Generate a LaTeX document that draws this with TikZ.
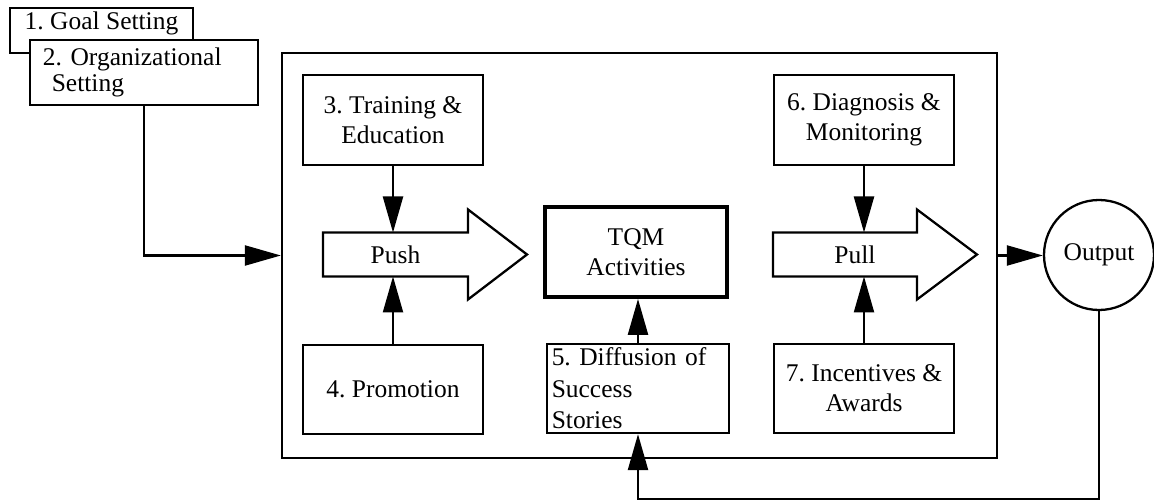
\documentclass[tikz,border=0pt]{standalone}
\usepackage{fontspec}
\setmainfont{Liberation Serif}
\usetikzlibrary{arrows.meta}

\begin{document}
\begin{tikzpicture}[
        font=\fontsize{14.5}{17}\selectfont\frenchspacing,
        box/.style={draw, rectangle, line width=1.3pt, align=center, inner sep=2pt},
        bigarrow/.style={rectangle, outer sep=0pt, inner sep=0pt, minimum height=0.88cm},
        arr/.style={line width=1.3pt, -{Triangle[length=0.72cm,width=0.4cm]}}
    ]
        \useasboundingbox (0, 0) rectangle (23.08, 10.04);

        \node[name=frame, box, minimum width=14.3cm, minimum height=8.1cm] at (12.79, 4.93) {};

        \node[name=goal, box, minimum width=3.66cm, minimum height=0.9cm,
              text height=0.36cm, text depth=0.4cm] at (2.03, 9.43) {1. Goal Setting};
        \node[name=org, box, fill=white, minimum width=4.56cm, minimum height=1.3cm,
              text width=4.04cm, align=left, font=\fontsize{14.5}{15}\selectfont\frenchspacing] at (2.88, 8.59)
            {2. Organizational\\\hspace*{5pt}Setting};

        \node[name=train, box, minimum width=3.6cm, minimum height=1.8cm] at (7.86, 7.64) {3. Training \&\\Education};
        \node[name=promo, box, minimum width=3.6cm, minimum height=1.78cm] at (7.86, 2.25) {4. Promotion};
        \node[name=tqm, box, line width=2.2pt, minimum width=3.64cm, minimum height=1.8cm] at (12.72, 5.0) {TQM\\Activities};
        \node[name=succ, box, inner ysep=0pt, minimum width=3.64cm, minimum height=1.78cm,
              text width=3.45cm, align=left, font=\fontsize{14.5}{18}\selectfont\frenchspacing] at (12.76, 2.27)
            {5. Diffusion of\\Success\\Stories};
        \node[name=diag, box, minimum width=3.6cm, minimum height=1.8cm] at (17.28, 7.64) {6. Diagnosis \&\\Monitoring};
        \node[name=incent, box, minimum width=3.6cm, minimum height=1.78cm] at (17.28, 2.27) {7. Incentives \&\\Awards};
        \node[name=out, draw, circle, line width=1.3pt, minimum size=2.2cm] at (21.98, 4.94) {Output};

        % block arrows
        \node[name=push, bigarrow, minimum width=2.9cm] at (7.91, 4.95) {Push};
        \node[name=pull, bigarrow, minimum width=2.88cm] at (16.9, 4.95) {\hspace*{0.4cm}Pull};
        \draw[line width=1.3pt, line join=miter] (push.north west) -- (push.north east) -- ++(0, 0.46)
            -- ++(1.18, -0.9) -- ++(-1.18, -0.9) -- ++(0, 0.46) -- (push.south west) -- cycle;
        \draw[line width=1.3pt, line join=miter] (pull.north west) -- (pull.north east) -- ++(0, 0.46)
            -- ++(1.2, -0.9) -- ++(-1.2, -0.9) -- ++(0, 0.46) -- (pull.south west) -- cycle;

        \coordinate (fb) at (21.98, 0.06);

        \draw[arr] (org.south) |- (frame.west);
        \draw[arr] (train.south) -- (train.south |- push.north);
        \draw[arr] (promo.north) -- (promo.north |- push.south);
        \draw[arr] (diag.south) -- (diag.south |- pull.north);
        \draw[arr] (incent.north) -- (incent.north |- pull.south);
        \draw[arr] (succ.north) -- (succ.north |- tqm.south);
        \draw[arr] (frame.east) -- (frame.east -| out.west);
        \draw[arr] (out.south) -- (fb) -| (succ.south);
    \end{tikzpicture}
\end{document}
